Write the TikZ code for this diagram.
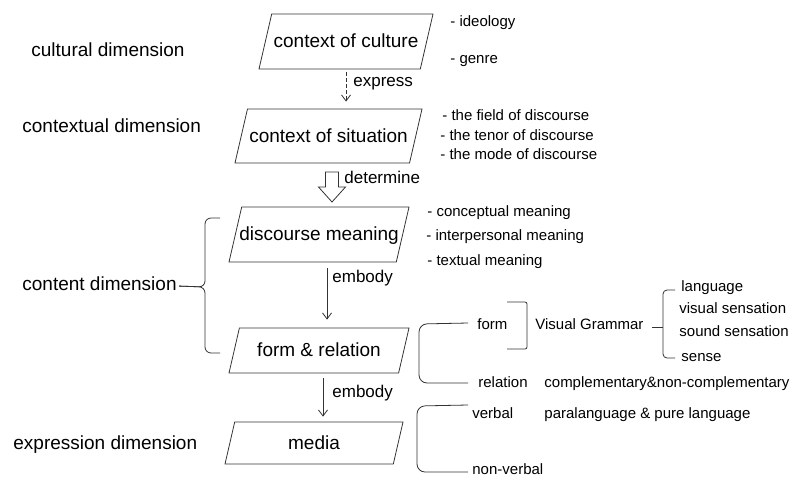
\documentclass[tikz,border=0pt]{standalone}
\usepackage{fontspec}
\setmainfont{Liberation Sans}
\usetikzlibrary{shapes.geometric,arrows.meta}

\begin{document}
\begin{tikzpicture}[x=1pt,y=1pt,yscale=-1,xscale=1,line width=0.8pt,
  >={Straight Barb[length=6pt,width=9pt]},
  para/.style={trapezium, draw=black!80, trapezium left angle=77, trapezium right angle=103,
    trapezium stretches body=true, inner xsep=0pt, text height=15.2pt, text depth=2.5pt, font=\fontsize{19}{22}\selectfont},
  dim/.style={anchor=west, inner sep=0pt, text height=13.7pt, text depth=4pt, font=\fontsize{19}{22}\selectfont},
  verb/.style={anchor=west, inner sep=0pt, text height=12.2pt, text depth=3.6pt, font=\fontsize{17}{20}\selectfont},
  item/.style={anchor=west, inner sep=0pt, text height=10.8pt, text depth=3.2pt, font=\fontsize{15}{18}\selectfont}]
  \useasboundingbox (0,0) rectangle (791,477);

  %Parallelograms
  \node[para, minimum width=174, inner ysep=18.65pt] (culture) at (346,41.5) {context of culture};
  \node[para, minimum width=187, inner ysep=18.15pt] (situation) at (328.5,136) {context of situation};
  \node[para, minimum width=180, inner ysep=18.65pt, inner xsep=-8pt] (discourse) at (319,234.5) {discourse meaning};
  \node[para, minimum width=180, inner ysep=13.65pt] (formrel) at (319,350.5) {form \& relation};
  \node[para, minimum width=178, inner ysep=12.15pt] (media) at (314,443) {media};

  %Dimensions
  \node[dim] (cultural) at (31,52) {cultural dimension};
  \node[dim] (contextual) at (22,128) {contextual dimension};
  \node[dim] (content) at (22,286) {content dimension};
  \node[dim] (expression) at (13,445) {expression dimension};

  %Straight Lines
  \draw[->, draw=black!80, dash pattern=on 4pt off 2pt, shorten <=3pt, shorten >=7pt] (culture.south) -- (culture.south |- situation.north)
    node[verb, pos=0.33, xshift=7pt] {express};
  \draw[->, draw=black!80, shorten <=6pt, shorten >=8pt] ([xshift=8pt]discourse.south) -- ([xshift=8pt]discourse.south |- formrel.north)
    node[verb, pos=0.24, xshift=5pt] {embody};
  \draw[->, draw=black!80, shorten <=5pt, shorten >=5pt] ([xshift=4pt]formrel.south) -- ([xshift=4pt]formrel.south |- media.north)
    node[verb, pos=0.41, xshift=9pt] {embody};

  %Block Arrow
  \coordinate (dtop) at (332,172);
  \draw[draw=black!80] (dtop) ++(-6.5,0) -- ++(13,0) -- ++(0,15) -- ++(7,0) -- ++(-13.5,15) -- ++(-13.5,-15) -- ++(7,0) -- cycle;
  \node[verb] (determine) at (344,179) {determine};

  %Lists
  \node[item] (ideology) at (450,23) {- ideology};
  \node[item] (genre) at (450,60) {- genre};
  \node[item] (field) at (442,117) {- the field of discourse};
  \node[item] (tenor) at (440,137) {- the tenor of discourse};
  \node[item] (mode) at (440,156) {- the mode of discourse};
  \node[item] (conceptual) at (427,213) {- conceptual meaning};
  \node[item] (interpersonal) at (426,237) {- interpersonal meaning};
  \node[item] (textual) at (427,262) {- textual meaning};
  \node[item] (form) at (477,326) {form};
  \node[item] (grammar) at (535,326) {Visual Grammar};
  \node[item] (language) at (681,288) {language};
  \node[item] (visual) at (679,310) {visual sensation};
  \node[item] (sound) at (679,333) {sound sensation};
  \node[item] (sense) at (681,358) {sense};
  \node[item] (relation) at (478,384) {relation};
  \node[item] (complement) at (544,384) {complementary\&non-complementary};
  \node[item] (verbal) at (472,415) {verbal};
  \node[item] (paralanguage) at (544,415) {paralanguage \& pure language};
  \node[item] (nonverbal) at (472,471) {non-verbal};

  %Braces
  \draw[draw=black!80, rounded corners=6pt, shorten >=2pt] (220,218) -| (205,287) -- (content.east);
  \draw[draw=black!80, rounded corners=6pt, shorten >=2pt] (220,353) -| (205,287) -- (content.east);
  \draw[draw=black!80, rounded corners=8pt] (468,323) -- (419,324) -- (419,383) -- (468,383);
  \draw[draw=black!80, rounded corners=2pt] (507,302) -- (527,302) -- (527,349) -- (507,349);
  \draw[draw=black!80, rounded corners=4pt] (675,290) -- (663,290) -- (663,358) -- (675,358);
  \draw[draw=black!80] (652,327) -- (663,327);
  \draw[draw=black!80, rounded corners=8pt] (468,405) -- (417,406) -- (417,472) -- (468,472);
\end{tikzpicture}
\end{document}
